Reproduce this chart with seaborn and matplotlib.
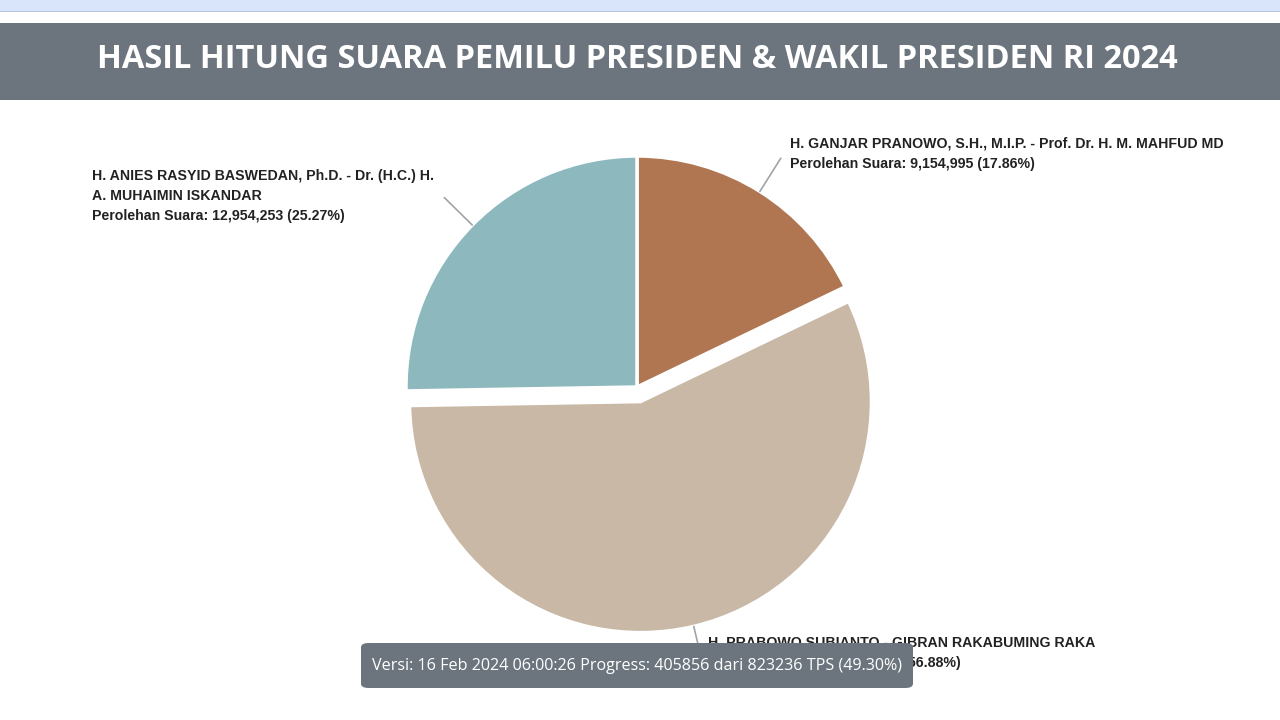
import numpy as np
import matplotlib
matplotlib.use("Agg")
import matplotlib.pyplot as plt
from matplotlib.patches import Rectangle, FancyBboxPatch
import seaborn as sns

# data
candidates = [
    "H. GANJAR PRANOWO, S.H., M.I.P. - Prof. Dr. H. M. MAHFUD MD",
    "H. PRABOWO SUBIANTO - GIBRAN RAKABUMING RAKA",
    "H. ANIES RASYID BASWEDAN, Ph.D. - Dr. (H.C.) H.\nA. MUHAIMIN ISKANDAR",
]
votes = [9154995, 29151643, 12954253]
percent = [17.86, 56.88, 25.27]
slice_colors = ["#b07652", "#c9b8a5", "#8db8bd"]
explode = [0, 0.065, 0]

title = "HASIL HITUNG SUARA PEMILU PRESIDEN & WAKIL PRESIDEN RI 2024"
footer = "Versi: 16 Feb 2024 06:00:26 Progress: 405856 dari 823236 TPS (49.30%)"

sns.set_theme(style="white")
plt.rcParams["font.family"] = ["Liberation Sans", "DejaVu Sans"]

W, H = 1280, 720
fig = plt.figure(figsize=(W / 100, H / 100), dpi=100)
fig.patch.set_facecolor("white")


def px(x, y):
    # pixel coords (top-left origin) -> figure fraction
    return x / W, 1 - y / H


# browser strip + header bar
fig.patches.append(Rectangle((0, 1 - 11 / H), 1, 11 / H, transform=fig.transFigure,
                             facecolor="#d8e5fb", edgecolor="none"))
fig.patches.append(Rectangle((0, 1 - 12 / H), 1, 1.2 / H, transform=fig.transFigure,
                             facecolor="#b8c6dc", edgecolor="none"))
fig.patches.append(Rectangle((0, 1 - 100 / H), 1, 77 / H, transform=fig.transFigure,
                             facecolor="#6c757d", edgecolor="none"))
fig.text(*px(637, 59), title, color="white", fontsize=23.5, fontweight="bold",
         family=["Open Sans", "DejaVu Sans"], ha="center", va="center")

# pie axes: centre (637, 387) px, radius 231 px
cx, cy, R = 637, 387, 231
ax = fig.add_axes([(cx - R) / W, (H - cy - R) / H, 2 * R / W, 2 * R / H])
wedges, _ = ax.pie(votes, colors=slice_colors, startangle=90, counterclock=False,
                   explode=explode, radius=1,
                   wedgeprops=dict(edgecolor="white", linewidth=2.5))
ax.set_xlim(-1, 1)
ax.set_ylim(-1, 1)
ax.set_aspect("equal")
ax.axis("off")

# connectors and labels
label_pos = [(790, 137), (708, 636), (92, 169)]
for w, name, v, p, (lx, ly) in zip(wedges, candidates, votes, percent, label_pos):
    ang = np.deg2rad((w.theta1 + w.theta2) / 2)
    ox, oy = w.center
    x0, y0 = ox + 1.0 * np.cos(ang), oy + 1.0 * np.sin(ang)
    x1, y1 = ox + 1.17 * np.cos(ang), oy + 1.17 * np.sin(ang)
    ax.plot([x0, x1], [y0, y1], color="#a0a4a8", lw=1.2, clip_on=False)
    txt = f"{name}\nPerolehan Suara: {v:,} ({p:.2f}%)"
    fig.text(*px(lx, ly), txt, fontsize=10.2, fontweight="bold", color="#222222",
             ha="left", va="top", linespacing=1.55)

# footer tooltip
box = FancyBboxPatch((361 / W, 1 - 688 / H), 552 / W, 45 / H,
                     boxstyle="round,pad=0,rounding_size=0.006",
                     transform=fig.transFigure, facecolor="#6c757d",
                     edgecolor="none", zorder=5)
fig.patches.append(box)
fig.text(*px(637, 666), footer, color="white", fontsize=11.6,
         family=["Open Sans", "DejaVu Sans"], ha="center", va="center", zorder=6)

fig.savefig("out.png", dpi=100)
